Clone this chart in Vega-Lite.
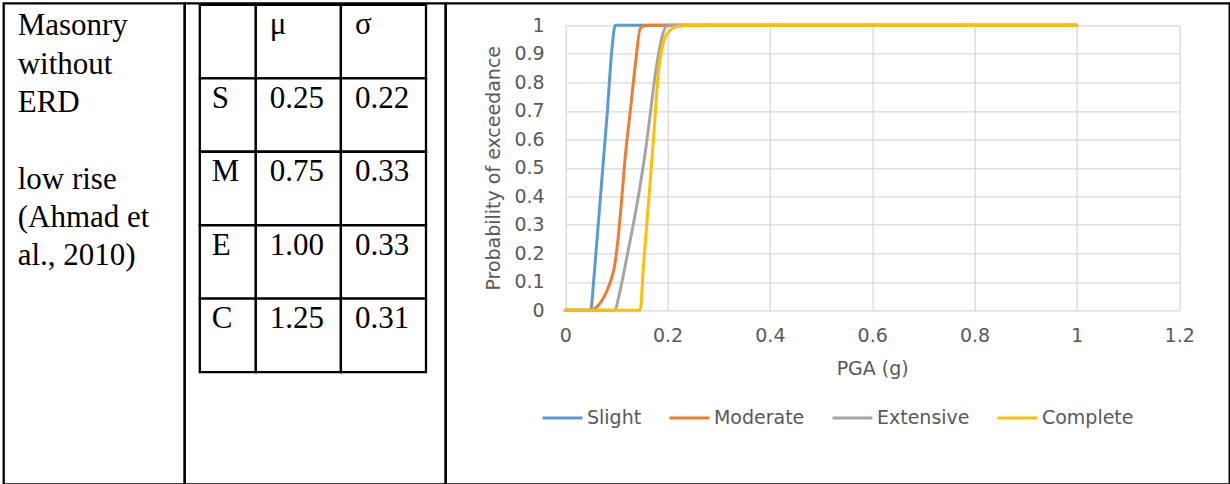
{
  "$schema": "https://vega.github.io/schema/vega-lite/v6.json",
  "padding": {"left": 1.7, "top": 1.3, "right": 0, "bottom": 0},
  "background": "white",
  "bounds": "flush",
  "spacing": 0,
  "config": {
    "view": {"stroke": "black", "strokeWidth": 2.3},
    "concat": {"spacing": 0}
  },
  "datasets": {
    "desc": [
      {"cell": "type", "line": 1, "text": "Masonry"},
      {"cell": "type", "line": 2, "text": "without"},
      {"cell": "type", "line": 3, "text": "ERD"},
      {"cell": "type", "line": 5, "text": "low rise"},
      {"cell": "type", "line": 6, "text": "(Ahmad et"},
      {"cell": "type", "line": 7, "text": "al., 2010)"}
    ],
    "cells": [
      {"row": "hdr", "col": "state", "text": ""},
      {"row": "hdr", "col": "μ", "text": "μ"},
      {"row": "hdr", "col": "σ", "text": "σ"},
      {"row": "S", "col": "state", "text": "S"},
      {"row": "S", "col": "μ", "text": "0.25"},
      {"row": "S", "col": "σ", "text": "0.22"},
      {"row": "M", "col": "state", "text": "M"},
      {"row": "M", "col": "μ", "text": "0.75"},
      {"row": "M", "col": "σ", "text": "0.33"},
      {"row": "E", "col": "state", "text": "E"},
      {"row": "E", "col": "μ", "text": "1.00"},
      {"row": "E", "col": "σ", "text": "0.33"},
      {"row": "C", "col": "state", "text": "C"},
      {"row": "C", "col": "μ", "text": "1.25"},
      {"row": "C", "col": "σ", "text": "0.31"}
    ],
    "curves": [
      {"state": "Slight", "pga": 0, "p": 0},
      {"state": "Slight", "pga": 0.05, "p": 0},
      {"state": "Slight", "pga": 0.0555, "p": 0.1},
      {"state": "Slight", "pga": 0.0645, "p": 0.3},
      {"state": "Slight", "pga": 0.0735, "p": 0.5},
      {"state": "Slight", "pga": 0.0825, "p": 0.7},
      {"state": "Slight", "pga": 0.0905, "p": 0.9},
      {"state": "Slight", "pga": 0.098, "p": 1},
      {"state": "Slight", "pga": 0.15, "p": 1},
      {"state": "Slight", "pga": 0.2, "p": 1},
      {"state": "Slight", "pga": 0.25, "p": 1},
      {"state": "Slight", "pga": 0.3, "p": 1},
      {"state": "Slight", "pga": 0.4, "p": 1},
      {"state": "Slight", "pga": 0.5, "p": 1},
      {"state": "Slight", "pga": 0.6, "p": 1},
      {"state": "Slight", "pga": 0.7, "p": 1},
      {"state": "Slight", "pga": 0.8, "p": 1},
      {"state": "Slight", "pga": 0.9, "p": 1},
      {"state": "Slight", "pga": 1, "p": 1},
      {"state": "Moderate", "pga": 0, "p": 0},
      {"state": "Moderate", "pga": 0.05, "p": 0},
      {"state": "Moderate", "pga": 0.062, "p": 0.012},
      {"state": "Moderate", "pga": 0.072, "p": 0.035},
      {"state": "Moderate", "pga": 0.082, "p": 0.07},
      {"state": "Moderate", "pga": 0.09, "p": 0.11},
      {"state": "Moderate", "pga": 0.096, "p": 0.15},
      {"state": "Moderate", "pga": 0.1, "p": 0.2},
      {"state": "Moderate", "pga": 0.104, "p": 0.263},
      {"state": "Moderate", "pga": 0.11, "p": 0.38},
      {"state": "Moderate", "pga": 0.117, "p": 0.532},
      {"state": "Moderate", "pga": 0.127, "p": 0.696},
      {"state": "Moderate", "pga": 0.137, "p": 0.86},
      {"state": "Moderate", "pga": 0.147, "p": 0.99},
      {"state": "Moderate", "pga": 0.16, "p": 1},
      {"state": "Moderate", "pga": 0.2, "p": 1},
      {"state": "Moderate", "pga": 0.25, "p": 1},
      {"state": "Moderate", "pga": 0.3, "p": 1},
      {"state": "Moderate", "pga": 0.4, "p": 1},
      {"state": "Moderate", "pga": 0.5, "p": 1},
      {"state": "Moderate", "pga": 0.6, "p": 1},
      {"state": "Moderate", "pga": 0.7, "p": 1},
      {"state": "Moderate", "pga": 0.8, "p": 1},
      {"state": "Moderate", "pga": 0.9, "p": 1},
      {"state": "Moderate", "pga": 1, "p": 1},
      {"state": "Extensive", "pga": 0, "p": 0},
      {"state": "Extensive", "pga": 0.05, "p": 0},
      {"state": "Extensive", "pga": 0.097, "p": 0},
      {"state": "Extensive", "pga": 0.105, "p": 0.05},
      {"state": "Extensive", "pga": 0.111, "p": 0.1},
      {"state": "Extensive", "pga": 0.122, "p": 0.2},
      {"state": "Extensive", "pga": 0.133, "p": 0.3},
      {"state": "Extensive", "pga": 0.143, "p": 0.4},
      {"state": "Extensive", "pga": 0.152, "p": 0.5},
      {"state": "Extensive", "pga": 0.16, "p": 0.6},
      {"state": "Extensive", "pga": 0.167, "p": 0.7},
      {"state": "Extensive", "pga": 0.174, "p": 0.8},
      {"state": "Extensive", "pga": 0.1825, "p": 0.9},
      {"state": "Extensive", "pga": 0.191, "p": 0.97},
      {"state": "Extensive", "pga": 0.2, "p": 1},
      {"state": "Extensive", "pga": 0.25, "p": 1},
      {"state": "Extensive", "pga": 0.3, "p": 1},
      {"state": "Extensive", "pga": 0.4, "p": 1},
      {"state": "Extensive", "pga": 0.5, "p": 1},
      {"state": "Extensive", "pga": 0.6, "p": 1},
      {"state": "Extensive", "pga": 0.7, "p": 1},
      {"state": "Extensive", "pga": 0.8, "p": 1},
      {"state": "Extensive", "pga": 0.9, "p": 1},
      {"state": "Extensive", "pga": 1, "p": 1},
      {"state": "Complete", "pga": 0, "p": 0},
      {"state": "Complete", "pga": 0.05, "p": 0},
      {"state": "Complete", "pga": 0.1, "p": 0},
      {"state": "Complete", "pga": 0.1465, "p": 0},
      {"state": "Complete", "pga": 0.153, "p": 0.158},
      {"state": "Complete", "pga": 0.163, "p": 0.38},
      {"state": "Complete", "pga": 0.1725, "p": 0.6},
      {"state": "Complete", "pga": 0.182, "p": 0.83},
      {"state": "Complete", "pga": 0.192, "p": 0.94},
      {"state": "Complete", "pga": 0.201, "p": 0.975},
      {"state": "Complete", "pga": 0.2215, "p": 0.997},
      {"state": "Complete", "pga": 0.25, "p": 1},
      {"state": "Complete", "pga": 0.3, "p": 1},
      {"state": "Complete", "pga": 0.4, "p": 1},
      {"state": "Complete", "pga": 0.5, "p": 1},
      {"state": "Complete", "pga": 0.6, "p": 1},
      {"state": "Complete", "pga": 0.7, "p": 1},
      {"state": "Complete", "pga": 0.8, "p": 1},
      {"state": "Complete", "pga": 0.9, "p": 1},
      {"state": "Complete", "pga": 1, "p": 1}
    ]
  },
  "hconcat": [
    {
      "width": 181,
      "height": 481,
      "data": {"name": "desc"},
      "mark": {"type": "text", "align": "left", "baseline": "alphabetic", "font": "Liberation Serif", "fontSize": 31, "color": "black"},
      "encoding": {
        "x": {"field": "cell", "type": "nominal", "bandPosition": 0, "scale": {"type": "band", "range": [14, 181], "paddingInner": 0, "paddingOuter": 0}, "axis": null},
        "y": {"field": "line", "type": "ordinal", "scale": {"type": "point", "domain": [1, 2, 3, 4, 5, 6, 7], "range": [32, 262], "padding": 0}, "axis": null},
        "text": {"field": "text"}
      }
    },
    {
      "width": 261,
      "height": 481,
      "data": {"name": "cells"},
      "layer": [
        {
          "transform": [{"filter": "datum.col === 'state'"}],
          "layer": [
            {
              "mark": {"type": "rect", "fill": "white", "stroke": "black", "strokeWidth": 2.3},
              "encoding": {
                "x": {"field": "col", "type": "nominal", "scale": {"type": "band", "domain": ["state"], "range": [15.1, 71.1], "paddingInner": 0, "paddingOuter": 0}, "axis": null},
                "y": {"field": "row", "type": "nominal", "scale": {"type": "band", "domain": ["hdr", "S", "M", "E", "C"], "range": [1.5, 368.9], "paddingInner": 0, "paddingOuter": 0}, "axis": null}
              }
            },
            {
              "mark": {"type": "text", "align": "left", "baseline": "alphabetic", "dx": 12, "dy": 29.5, "font": "Liberation Serif", "fontSize": 31, "color": "black"},
              "encoding": {
                "x": {"field": "col", "type": "nominal", "bandPosition": 0, "scale": {"type": "band", "domain": ["state"], "range": [15.1, 71.1], "paddingInner": 0, "paddingOuter": 0}, "axis": null},
                "y": {"field": "row", "type": "nominal", "bandPosition": 0, "scale": {"type": "band", "domain": ["hdr", "S", "M", "E", "C"], "range": [1.5, 368.9], "paddingInner": 0, "paddingOuter": 0}, "axis": null},
                "text": {"field": "text"}
              }
            }
          ]
        },
        {
          "transform": [{"filter": "datum.col !== 'state'"}],
          "layer": [
            {
              "mark": {"type": "rect", "fill": "white", "stroke": "black", "strokeWidth": 2.3},
              "encoding": {
                "x": {"field": "col", "type": "nominal", "scale": {"type": "band", "domain": ["μ", "σ"], "range": [71.1, 241.3], "paddingInner": 0, "paddingOuter": 0}, "axis": null},
                "y": {"field": "row", "type": "nominal", "scale": {"type": "band", "domain": ["hdr", "S", "M", "E", "C"], "range": [1.5, 368.9], "paddingInner": 0, "paddingOuter": 0}, "axis": null}
              }
            },
            {
              "mark": {"type": "text", "align": "left", "baseline": "alphabetic", "dx": 14, "dy": 29.5, "font": "Liberation Serif", "fontSize": 31, "color": "black"},
              "encoding": {
                "x": {"field": "col", "type": "nominal", "bandPosition": 0, "scale": {"type": "band", "domain": ["μ", "σ"], "range": [71.1, 241.3], "paddingInner": 0, "paddingOuter": 0}, "axis": null},
                "y": {"field": "row", "type": "nominal", "bandPosition": 0, "scale": {"type": "band", "domain": ["hdr", "S", "M", "E", "C"], "range": [1.5, 368.9], "paddingInner": 0, "paddingOuter": 0}, "axis": null},
                "text": {"field": "text"}
              }
            }
          ]
        }
      ],
      "resolve": {"scale": {"x": "independent"}}
    },
    {
      "width": 784,
      "height": 481,
      "data": {"name": "curves"},
      "layer": [
        {
          "mark": {"type": "line", "opacity": 0},
          "encoding": {
            "x": {"field": "pga", "type": "quantitative", "scale": {"domain": [0, 1.2], "range": [119.5, 733.5], "nice": false, "zero": false},
              "axis": {"orient": "top", "values": [0, 0.2, 0.4, 0.6, 0.8, 1, 1.2], "grid": true, "gridColor": "#d9d9d9", "gridWidth": 1.3, "labels": false, "ticks": false, "domain": false, "title": null}},
            "y": {"field": "p", "type": "quantitative", "scale": {"domain": [0, 1], "range": [307, 22], "nice": false, "zero": false},
              "axis": {"orient": "left", "offset": -119.5, "values": [0, 0.1, 0.2, 0.3, 0.4, 0.5, 0.6, 0.7, 0.8, 0.9, 1], "format": "~g", "grid": true, "gridColor": "#d9d9d9", "gridWidth": 1.3, "domain": false, "ticks": false, "tickSize": 0, "labelPadding": 21, "labelFont": "DejaVu Sans", "labelFontSize": 19, "labelColor": "#595959", "title": "Probability of exceedance", "titleFont": "DejaVu Sans", "titleFontSize": 19, "titleFontWeight": "normal", "titleColor": "#595959", "titlePadding": 10}},
            "detail": {"field": "state"}
          }
        },
        {
          "mark": {"type": "line", "interpolate": "monotone", "strokeWidth": 3, "strokeCap": "round"},
          "encoding": {
            "x": {"field": "pga", "type": "quantitative", "scale": {"domain": [0, 1.2], "range": [119.5, 733.5], "nice": false, "zero": false},
              "axis": {"orient": "bottom", "offset": -174, "values": [0, 0.2, 0.4, 0.6, 0.8, 1, 1.2], "format": "~g", "grid": false, "domain": false, "ticks": false, "tickSize": 0, "labelFlush": false, "labelPadding": 16.5, "labelFont": "DejaVu Sans", "labelFontSize": 19, "labelColor": "#595959", "title": "PGA (g)", "titleFont": "DejaVu Sans", "titleFontSize": 19, "titleFontWeight": "normal", "titleColor": "#595959", "titlePadding": 14}},
            "y": {"field": "p", "type": "quantitative", "scale": {"domain": [0, 1], "range": [307, 22], "nice": false, "zero": false},
              "axis": {"orient": "left", "offset": -119.5, "values": [0, 0.1, 0.2, 0.3, 0.4, 0.5, 0.6, 0.7, 0.8, 0.9, 1], "format": "~g", "grid": true, "gridColor": "#d9d9d9", "gridWidth": 1.3, "domain": false, "ticks": false, "tickSize": 0, "labelPadding": 21, "labelFont": "DejaVu Sans", "labelFontSize": 19, "labelColor": "#595959", "title": "Probability of exceedance", "titleFont": "DejaVu Sans", "titleFontSize": 19, "titleFontWeight": "normal", "titleColor": "#595959", "titlePadding": 10}},
            "color": {"field": "state", "type": "nominal", "sort": null,
              "scale": {"domain": ["Slight", "Moderate", "Extensive", "Complete"], "range": ["#5B9BD5", "#ED7D31", "#A5A5A5", "#FFC000"]},
              "legend": {"orient": "none", "direction": "horizontal", "columns": 4, "legendX": 537.3, "legendY": 393, "title": null, "symbolType": "stroke", "symbolSize": 1600, "symbolStrokeWidth": 3, "labelFont": "DejaVu Sans", "labelFontSize": 19, "labelColor": "#595959", "labelOffset": 3, "columnPadding": 21}}
          }
        }
      ],
      "resolve": {"axis": {"x": "independent"}}
    }
  ]
}
